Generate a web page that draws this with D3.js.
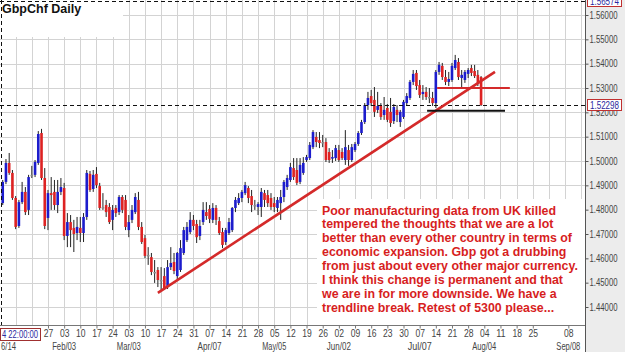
<!DOCTYPE html>
<html><head><meta charset="utf-8">
<script src="https://cdn.jsdelivr.net/npm/d3@7"></script>
<style>
html,body{margin:0;padding:0;background:#fff;}
svg{display:block;font-family:"Liberation Sans",Arial,sans-serif;}
</style></head>
<body><svg id="c" width="625" height="352"></svg>
<script>
// ---- data (bar index: 0 = Mon Jan 06 2014, 5 bars per week) ----
const barIndex = d3.range(1, 150);
const opens = [1.4827,1.4914,1.4992,1.4951,1.4848,1.4733,1.4831,1.4873,1.4799,1.4943,1.4943,1.4992,1.5115,1.4930,1.4766,1.4868,1.4873,1.4819,1.4873,1.4889,
1.4692,1.4749,1.4725,1.4704,1.4725,1.4704,1.4770,1.4947,1.4885,1.4947,1.4897,1.4811,1.4819,1.4811,1.4758,1.4807,1.4790,1.4852,1.4840,1.4716,
1.4758,1.4790,1.4840,1.4729,1.4683,1.4614,1.4605,1.4544,1.4552,1.4511,1.4527,1.4482,1.4564,1.4585,1.4527,1.4552,1.4622,1.4675,1.4708,1.4758,
1.4741,1.4692,1.4749,1.4790,1.4803,1.4758,1.4807,1.4753,1.4708,1.4667,1.4704,1.4716,1.4807,1.4827,1.4848,1.4868,1.4889,1.4856,1.4819,1.4811,
1.4811,1.4868,1.4860,1.4848,1.4827,1.4807,1.4827,1.4852,1.4893,1.4922,1.4971,1.4963,1.4914,1.4951,1.5004,1.5012,1.5057,1.5099,1.5086,1.5078,
1.5078,1.5037,1.5012,1.5012,1.5045,1.5037,1.5004,1.5045,1.5004,1.5045,1.5070,1.5115,1.5160,1.5230,1.5267,1.5251,1.5210,1.5226,1.5189,1.5218,
1.5202,1.5164,1.5210,1.5160,1.5181,1.5238,1.5259,1.5325,1.5362,1.5312,1.5275,1.5284,1.5263,1.5259,1.5238,1.5366,1.5391,1.5345,1.5325,1.5333,
1.5382,1.5407,1.5341,1.5333,1.5358,1.5382,1.5370,1.5354,1.5345];
const highs = [1.4922,1.5008,1.5033,1.4963,1.4856,1.4840,1.4914,1.4893,1.4943,1.4980,1.5004,1.5123,1.5132,1.4971,1.4881,1.4934,1.4922,1.4922,1.4930,1.4910,
1.4786,1.4778,1.4758,1.4770,1.4770,1.4786,1.4963,1.4959,1.4963,1.4975,1.4910,1.4868,1.4840,1.4827,1.4819,1.4819,1.4860,1.4860,1.4860,1.4778,
1.4819,1.4868,1.4873,1.4749,1.4696,1.4646,1.4622,1.4593,1.4564,1.4564,1.4560,1.4593,1.4646,1.4622,1.4626,1.4675,1.4729,1.4749,1.4790,1.4778,
1.4758,1.4758,1.4831,1.4831,1.4819,1.4827,1.4819,1.4770,1.4725,1.4725,1.4766,1.4811,1.4852,1.4868,1.4881,1.4914,1.4897,1.4881,1.4840,1.4831,
1.4889,1.4881,1.4881,1.4868,1.4852,1.4852,1.4881,1.4922,1.4943,1.4992,1.5012,1.5012,1.5012,1.5016,1.5025,1.5078,1.5127,1.5119,1.5119,1.5107,
1.5094,1.5053,1.5045,1.5066,1.5066,1.5053,1.5127,1.5066,1.5070,1.5078,1.5123,1.5169,1.5238,1.5284,1.5292,1.5304,1.5284,1.5238,1.5263,1.5234,
1.5259,1.5234,1.5230,1.5210,1.5251,1.5279,1.5333,1.5374,1.5374,1.5333,1.5312,1.5304,1.5300,1.5284,1.5374,1.5407,1.5403,1.5374,1.5366,1.5403,
1.5436,1.5423,1.5374,1.5374,1.5382,1.5395,1.5395,1.5374,1.5349];
const lows = [1.4819,1.4905,1.4943,1.4840,1.4720,1.4725,1.4823,1.4778,1.4778,1.4930,1.4934,1.4984,1.4922,1.4720,1.4716,1.4799,1.4799,1.4786,1.4860,1.4675,
1.4646,1.4646,1.4626,1.4675,1.4667,1.4667,1.4758,1.4873,1.4873,1.4889,1.4799,1.4799,1.4770,1.4741,1.4716,1.4770,1.4778,1.4786,1.4716,1.4687,
1.4745,1.4782,1.4716,1.4659,1.4601,1.4573,1.4531,1.4499,1.4482,1.4470,1.4470,1.4474,1.4552,1.4535,1.4515,1.4544,1.4614,1.4667,1.4700,1.4716,
1.4663,1.4675,1.4737,1.4758,1.4745,1.4745,1.4737,1.4696,1.4642,1.4655,1.4696,1.4708,1.4790,1.4819,1.4831,1.4860,1.4827,1.4790,1.4799,1.4778,
1.4770,1.4811,1.4811,1.4799,1.4790,1.4790,1.4758,1.4831,1.4881,1.4914,1.4922,1.4901,1.4905,1.4943,1.4996,1.5004,1.5049,1.5057,1.5053,1.5057,
1.4996,1.4992,1.4992,1.5000,1.4996,1.5004,1.4984,1.4980,1.4996,1.5037,1.5062,1.5107,1.5152,1.5210,1.5226,1.5181,1.5197,1.5169,1.5169,1.5160,
1.5140,1.5152,1.5160,1.5140,1.5173,1.5226,1.5251,1.5312,1.5292,1.5259,1.5251,1.5251,1.5238,1.5226,1.5218,1.5354,1.5333,1.5312,1.5308,1.5325,
1.5374,1.5333,1.5304,1.5321,1.5341,1.5349,1.5341,1.5308,1.5226];
const closes = [1.4914,1.4992,1.4951,1.4848,1.4729,1.4831,1.4873,1.4790,1.4934,1.4943,1.4996,1.5111,1.4930,1.4733,1.4868,1.4860,1.4819,1.4873,1.4893,1.4692,
1.4749,1.4716,1.4700,1.4729,1.4704,1.4770,1.4951,1.4881,1.4943,1.4901,1.4807,1.4811,1.4790,1.4749,1.4799,1.4786,1.4852,1.4799,1.4729,1.4749,
1.4799,1.4852,1.4729,1.4667,1.4610,1.4614,1.4544,1.4544,1.4511,1.4511,1.4478,1.4564,1.4581,1.4548,1.4622,1.4642,1.4716,1.4729,1.4758,1.4733,
1.4687,1.4733,1.4799,1.4774,1.4762,1.4807,1.4758,1.4704,1.4655,1.4716,1.4749,1.4807,1.4840,1.4848,1.4873,1.4901,1.4848,1.4819,1.4819,1.4823,
1.4873,1.4840,1.4827,1.4811,1.4811,1.4840,1.4852,1.4914,1.4930,1.4975,1.4934,1.4910,1.4984,1.4992,1.5016,1.5066,1.5119,1.5078,1.5074,1.5078,
1.5004,1.5004,1.5016,1.5053,1.5004,1.5012,1.5057,1.5004,1.5057,1.5070,1.5115,1.5160,1.5230,1.5259,1.5238,1.5202,1.5226,1.5181,1.5210,1.5169,
1.5156,1.5222,1.5189,1.5202,1.5243,1.5267,1.5325,1.5358,1.5308,1.5271,1.5284,1.5263,1.5263,1.5238,1.5366,1.5395,1.5345,1.5325,1.5337,1.5391,
1.5415,1.5345,1.5354,1.5366,1.5374,1.5362,1.5349,1.5321,1.5230];

const weekIdx    = [15,20,25,30,35,40,45,50,55,60,65,70,75,80,85,90,95,100,105,110,115,120,125,130,135,140,145,150,155,160,165,176];
const weekLabels = ["27","03","10","17","24","03","10","17","24","31","07","14","21","28","05","12","19","26","02","09","16","23","30","07","14","21","28","04","11","18","25","08"];
const gridIdx    = d3.range(5, 181, 5);
const monthIdx   = [20,40,65,85,105,130,150,176];
const monthLabels= ["Feb/03","Mar/03","Apr/07","May/05","Jun/02","Jul/07","Aug/04","Sep/08"];
const yTicks     = [1.44,1.45,1.46,1.47,1.48,1.49,1.50,1.51,1.52,1.53,1.54,1.55,1.56];
const crossPrice = 1.52298, topPrice = 1.56574;
const trendLine  = [[49,1.4458],[153.3,1.5366]];
const retestLine = [[135.4,1.5300],[157.9,1.5300]];
const supportLine= [[132.3,1.5206],[156.4,1.5206]];
const title = "GbpChf Daily";
const note = ["Poor manufacturing data from UK killed","tempered the thoughts that we are a lot","better than every other country in terms of","economic expansion. Gbp got a drubbing","from just about every other major currency.","I think this change is permanent and that","we are in for more downside. We have a","trendline break. Retest of 5300 please..."];

const bars = barIndex.map((d,k)=>({i:d,o:opens[k],h:highs[k],l:lows[k],c:closes[k]}));

const svg = d3.select("#c");
const PR = 585, PB = 325;
const x = d3.scaleLinear().domain([0,181]).range([-0.5,584.5]);
const y = d3.scaleLinear().domain([1.44,1.56]).range([307,15]);
const AXF = "Liberation Sans, Arial, sans-serif";

// right axis panel background
svg.append("rect").attr("x",PR).attr("y",0).attr("width",625-PR).attr("height",352).attr("fill","#ececec");

const plot = svg.append("g");
plot.append("defs").append("clipPath").attr("id","pc").append("rect").attr("x",0).attr("y",0).attr("width",PR).attr("height",PB);
const g = plot.append("g").attr("clip-path","url(#pc)");

// grid
g.selectAll(".vg").data(gridIdx).join("line").attr("x1",d=>Math.round(x(d))+0.5).attr("x2",d=>Math.round(x(d))+0.5)
  .attr("y1",0).attr("y2",PB).attr("stroke","#d3d3d3");
g.selectAll(".hg").data(yTicks).join("line").attr("y1",d=>Math.round(y(d))+0.5).attr("y2",d=>Math.round(y(d))+0.5)
  .attr("x1",0).attr("x2",PR).attr("stroke","#d3d3d3");

// title box
g.append("rect").attr("x",0).attr("y",0).attr("width",123).attr("height",37).attr("fill","#fff");

// candles
const cg = g.append("g");
cg.selectAll("line").data(bars).join("line")
  .attr("x1",d=>x(d.i)).attr("x2",d=>x(d.i)).attr("y1",d=>y(d.h)).attr("y2",d=>y(d.l))
  .attr("stroke","#222").attr("stroke-width",1);
cg.selectAll("rect").data(bars).join("rect")
  .attr("x",d=>x(d.i)-1.3).attr("width",2.6)
  .attr("y",d=>y(Math.max(d.o,d.c))).attr("height",d=>Math.max(1.5,Math.abs(y(d.o)-y(d.c))))
  .attr("fill",d=>Math.abs(d.o-d.c)<0.00005?"#8a8a8a":(d.c>d.o?"#1c1ccc":"#dd2222"));

// crosshair dashed lines
g.append("line").attr("x1",0).attr("x2",PR).attr("y1",Math.round(y(crossPrice))+0.5).attr("y2",Math.round(y(crossPrice))+0.5)
  .attr("stroke","#111").attr("stroke-dasharray","4,3");
g.append("line").attr("x1",0).attr("x2",PR).attr("y1",Math.round(y(topPrice))+0.5).attr("y2",Math.round(y(topPrice))+0.5)
  .attr("stroke","#111").attr("stroke-dasharray","4,3");
g.append("line").attr("x1",1.5).attr("x2",1.5).attr("y1",0).attr("y2",PB)
  .attr("stroke","#111").attr("stroke-dasharray","4,3");

// annotations
const ln = d3.line().x(d=>x(d[0])).y(d=>y(d[1]));
g.append("path").attr("d",ln(trendLine)).attr("stroke","#d42a2a").attr("stroke-width",2.6).attr("fill","none");
g.append("path").attr("d",ln(retestLine)).attr("stroke","#d42a2a").attr("stroke-width",2.2).attr("fill","none");
g.append("path").attr("d",ln(supportLine)).attr("stroke","#111").attr("stroke-width",2).attr("fill","none");

// note box
g.append("rect").attr("x",317).attr("y",199).attr("width",PR-317).attr("height",PB-199).attr("fill","#fff");
g.append("text").attr("fill","#d71e1e").attr("font-size",12.4).attr("font-weight","bold")
  .selectAll("tspan").data(note).join("tspan").attr("x",322).attr("y",(d,k)=>214.5+k*13.9).text(d=>d);

// title
g.append("text").attr("x",2).attr("y",13).attr("font-size",12.5).attr("font-weight","bold").attr("fill","#111").text(title);

// frame
svg.append("line").attr("x1",PR+0.5).attr("x2",PR+0.5).attr("y1",0).attr("y2",352).attr("stroke","#555");
svg.append("line").attr("x1",0).attr("x2",PR).attr("y1",PB+0.5).attr("y2",PB+0.5).attr("stroke","#777");

// right axis
const ya = svg.append("g").attr("transform",`translate(${PR+0.5},0)`)
  .call(d3.axisRight(y).tickValues(yTicks).tickFormat(d3.format(".5f")).tickSize(3).tickPadding(1));
ya.select(".domain").remove();
ya.selectAll("text").attr("font-size",10).attr("fill","#444").attr("font-family",AXF)
  .attr("textLength",28).attr("lengthAdjust","spacingAndGlyphs");
ya.selectAll(".tick line").attr("stroke","#555");

// price marker boxes
function priceBox(p){
  const yy = Math.round(y(p));
  const gb = svg.append("g");
  gb.append("rect").attr("x",PR+2.5).attr("y",yy-5.5).attr("width",34).attr("height",11).attr("fill","#fff").attr("stroke","#c03030");
  gb.append("text").attr("x",PR+5).attr("y",yy+4).attr("font-size",10).attr("fill","#2a2aa0")
    .attr("textLength",29).attr("lengthAdjust","spacingAndGlyphs").text(d3.format(".5f")(p));
}
priceBox(crossPrice);
priceBox(topPrice);

// bottom axis
const xa = svg.append("g").attr("transform",`translate(0,${PB+0.5})`)
  .call(d3.axisBottom(x).tickValues(weekIdx).tickFormat((d,k)=>weekLabels[k]).tickSize(3).tickPadding(1));
xa.select(".domain").remove();
xa.selectAll("text").attr("font-size",10).attr("fill","#444").attr("font-family",AXF)
  .attr("textLength",9.5).attr("lengthAdjust","spacingAndGlyphs");
xa.selectAll(".tick line").attr("stroke","#777");

svg.append("g").selectAll("text").data(monthIdx).join("text")
  .attr("x",d=>x(d)).attr("y",350).attr("text-anchor","middle").attr("font-size",10).attr("fill","#444")
  .attr("textLength",24).attr("lengthAdjust","spacingAndGlyphs")
  .text((d,k)=>monthLabels[k]);
svg.append("text").attr("x",1).attr("y",350).attr("font-size",10).attr("fill","#444")
  .attr("textLength",15).attr("lengthAdjust","spacingAndGlyphs").text("6/14");

// crosshair time box
svg.append("rect").attr("x",0.5).attr("y",PB+3.5).attr("width",40).attr("height",12).attr("fill","#fff").attr("stroke","#a03030");
svg.append("text").attr("x",2).attr("y",PB+13).attr("font-size",10).attr("fill","#2a2aa0")
  .attr("textLength",36).attr("lengthAdjust","spacingAndGlyphs").text("4 22:00:00");
</script></body></html>
